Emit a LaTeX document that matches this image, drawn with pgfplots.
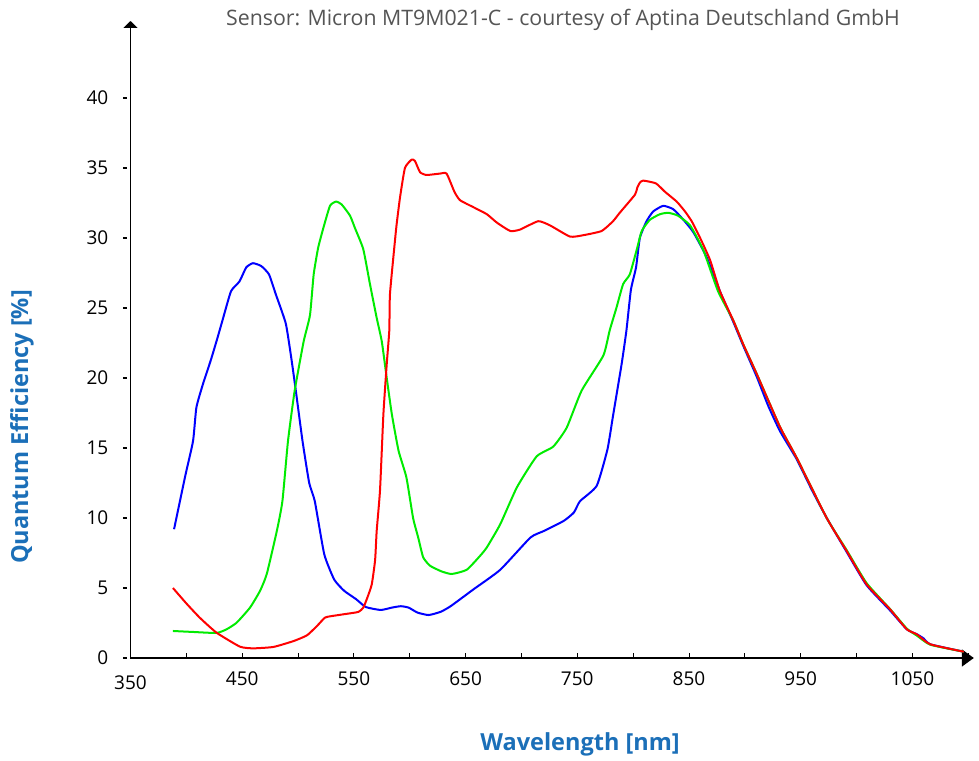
\documentclass[border=0pt]{standalone}
\usepackage{pgfplots}
\pgfplotsset{compat=1.18}
\usepackage{fontspec}
\setmainfont{Open Sans}
\usetikzlibrary{arrows.meta}
\definecolor{lblue}{RGB}{27,111,184}
\definecolor{tgray}{RGB}{85,85,85}
\definecolor{cgreen}{RGB}{0,235,0}
\begin{document}
\begin{tikzpicture}
\begin{axis}[
  name=ax, at={(0pt,0pt)}, anchor=south west, scale only axis,
  width=843.3pt, height=637pt,
  xmin=350, xmax=1105, ymin=0, ymax=45.5,
  axis lines=left,
  axis line style={line width=1.7pt},
  x axis line style={-{Triangle[length=12pt,width=17pt]}},
  y axis line style={-{Triangle[length=7pt,width=14pt]}},
  font=\fontsize{19}{22}\selectfont,
  /pgf/number format/assume math mode=true,
  xtick={350,450,...,1050},
  xticklabels={\smash{\raisebox{-4pt}{350}}\vphantom{450},450,550,650,750,850,950,1050},
  minor xtick={400,500,...,1100},
  tick align=inside,
  major tick length=5pt, minor tick length=5pt,
  tick style={black, line width=0.9pt},
  xticklabel style={inner sep=0pt, yshift=-14pt},
  ytick={0,5,...,40},
  ytick style={draw=none},
  yticklabel={\pgfmathprintnumber{\tick}\hspace{15pt}\rule[6pt]{4pt}{1.3pt}},
  yticklabel style={inner sep=0pt, xshift=-3pt},
  clip=false,
  every axis plot/.append style={line width=2pt, line join=round, no markers, smooth, tension=0.3},
]
% Blue
\addplot[blue] coordinates {
(389,9.2)(399,13.0)(406,15.5)(409,17.9)(415,19.6)(422,21.3)(428,22.9)(433,24.3)
(440,26.2)(447.6,26.9)(453.6,27.9)(459.6,28.2)(467,28.0)(474,27.4)(480,26.0)
(489,23.9)(494,21.4)(498,19.1)(504,15.5)(510,12.5)(515,11.2)(523.5,7.4)
(532.4,5.6)(541.3,4.8)(552,4.2)(560.7,3.64)(574,3.43)(584,3.6)(592,3.7)(599,3.6)
(607,3.24)(617,3.07)(627.7,3.3)(636.6,3.7)(657,4.9)(681,6.3)(708,8.6)(720,9.07)
(738,9.8)(747,10.4)(752.4,11.2)(767.4,12.3)(777,14.9)(782,17.3)(789.7,21.0)
(794,23.4)(798,26.3)(802.6,27.9)(806,30.0)(812,31.2)(818,31.9)(827,32.3)
(836,32.05)(845,31.3)(854,30.4)(866,28.6)(877.7,26.2)(889.7,24.0)(898.6,22.3)
(910.6,20.1)(921,18.0)(931.5,16.2)(946.4,14.2)(960,12.0)(973.3,10.0)(991,7.6)
(1009,5.2)(1030,3.4)(1045,2.05)(1054,1.7)(1060,1.4)(1066,0.98)(1096,0.45)
};
% Green
\addplot[cgreen] coordinates {
(388,1.93)(406,1.86)(427,1.79)(436,2.05)(445,2.52)(457,3.6)(466,4.8)(472,6.0)
(481,9.07)(486,11.2)(491,15.5)(497,19.1)(505,22.6)(510.7,24.5)(514,27.4)
(518,29.3)(522.6,30.7)(528.6,32.3)(534,32.6)(539,32.4)(546.5,31.6)(551,30.7)
(558.4,29.2)(564.4,26.7)(570.4,24.3)(575,22.6)(579.4,20.0)(584,17.4)(590,14.8)
(597,12.9)(603,10.0)(607.6,8.6)(612,7.2)(618,6.6)(628,6.2)(637.5,6.0)(651,6.3)
(663,7.3)(669,7.9)(681,9.55)(696,12.2)(713.6,14.4)(728.5,15.1)(740.5,16.45)
(753.9,19.1)(773.3,21.6)(779,23.4)(785,25.0)(791,26.7)(797,27.4)(803,29.1)
(807.7,30.5)(815,31.3)(824,31.7)(831.5,31.8)(840,31.6)(851,30.9)(863,29.1)
(876,26.2)(889.7,24.1)(898.6,22.4)(910.6,20.3)(931.5,16.5)(946.4,14.3)
(973.3,10.0)(991.2,7.7)(1009,5.35)(1030,3.5)(1045,2.1)(1054,1.6)(1066,0.95)(1096,0.45)
};
% Red
\addplot[red] coordinates {
(388,5.0)(400,3.9)(412,2.88)(427,1.81)(448,0.81)(460,0.69)(478,0.79)(496,1.21)
(508,1.62)(517,2.29)(524,2.88)(529,2.98)(540.5,3.12)(554,3.29)(558.4,3.6)
(562,4.3)(566,5.26)(569,7.0)(570.4,9.07)(573.4,12.0)(576.4,17.4)(579.4,21.0)
(581.7,23.4)(582.3,26.0)(587,30.0)(588.3,31.0)(591.3,32.9)(595.7,35.0)
(601.7,35.6)(604.7,35.5)(609.2,34.7)(615,34.5)(627,34.6)(633,34.6)(640,33.3)
(645,32.7)(657,32.2)(669,31.7)(678,31.1)(690,30.5)(698.7,30.6)(715,31.2)
(725.6,30.9)(743.5,30.1)(755.4,30.2)(771.8,30.5)(782,31.2)(788,31.8)
(801.7,33.1)(803.7,33.6)(806,33.95)(809,34.1)(820.4,33.9)(828.5,33.3)
(839,32.6)(846.4,31.9)(852.4,31.2)(860,30.0)(869,28.4)(877.7,26.2)(889.7,24.1)
(898.6,22.4)(910.6,20.3)(931.5,16.5)(946.4,14.3)(973.3,10.0)(991.2,7.64)
(1009,5.26)(1030,3.48)(1045,2.05)(1054,1.69)(1066,0.98)(1096,0.45)
};
\end{axis}
\node[text=tgray, font=\fontsize{21.3}{25}\selectfont] at (432.5pt,638pt) {Sensor: Micron MT9M021-C - courtesy of Aptina Deutschland GmbH};
\node[text=lblue, font=\fontsize{23.5}{27}\selectfont\bfseries, rotate=90] at (-108.5pt,231pt) {Quantum Efficiency [\%]};
\node[text=lblue, font=\fontsize{23.5}{27}\selectfont\bfseries] at (449.5pt,-86pt) {Wavelength [nm]};
\pgfresetboundingbox
\path (-130.5pt,-102pt) rectangle (848.5pt,658pt);
\end{tikzpicture}
\end{document}
